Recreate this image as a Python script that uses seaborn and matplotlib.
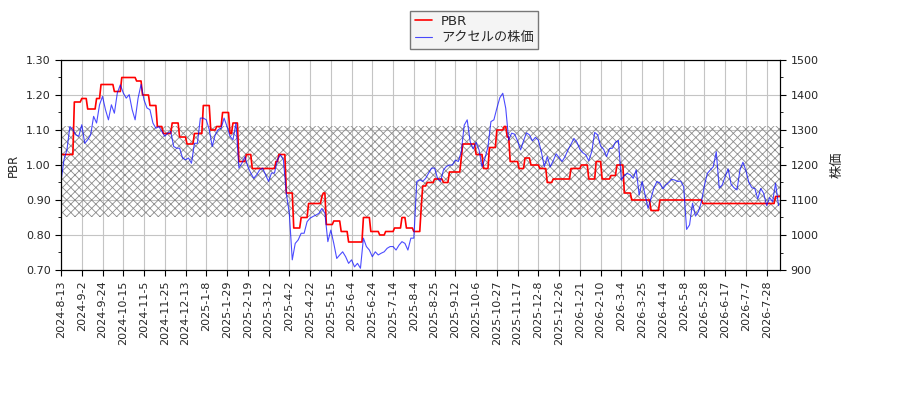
import numpy as np
import pandas as pd
import seaborn as sns
import matplotlib
matplotlib.use("Agg")
import matplotlib.pyplot as plt
from matplotlib.ticker import MultipleLocator, FormatStrFormatter

# --- data (x axis = trading-day index) ---
N_DAYS = 486
TICK_STEP = 14
tick_labels = [
    "2024-8-13", "2024-9-2", "2024-9-24", "2024-10-15", "2024-11-5", "2024-11-25",
    "2024-12-13", "2025-1-8", "2025-1-29", "2025-2-19", "2025-3-12", "2025-4-2",
    "2025-4-22", "2025-5-15", "2025-6-4", "2025-6-24", "2025-7-14", "2025-8-4",
    "2025-8-25", "2025-9-12", "2025-10-6", "2025-10-27", "2025-11-17", "2025-12-8",
    "2025-12-26", "2026-1-21", "2026-2-10", "2026-3-4", "2026-3-25", "2026-4-14",
    "2026-5-8", "2026-5-28", "2026-6-17", "2026-7-7", "2026-7-28",
]

# PBR is a step series: day where each level starts, and the level
pbr_start = [0, 9, 14, 18, 24, 27, 36, 41, 51, 55,
             60, 65, 69, 75, 80, 85, 90, 96, 101, 105,
             109, 114, 116, 120, 125, 129, 145, 147, 152, 157,
             162, 167, 176, 177, 179, 184, 189, 194, 204, 209,
             215, 219, 225, 230, 233, 238, 243, 244, 247, 252,
             258, 262, 270, 271, 280, 285, 289, 294, 299, 301,
             303, 309, 313, 317, 323, 328, 332, 344, 351, 356,
             361, 365, 371, 375, 380, 385, 398, 404, 433, 482]
pbr_value = [1.03, 1.18, 1.19, 1.16, 1.19, 1.23, 1.21, 1.25, 1.24, 1.20,
             1.17, 1.11, 1.09, 1.12, 1.08, 1.06, 1.09, 1.17, 1.10, 1.11,
             1.15, 1.09, 1.12, 1.01, 1.03, 0.99, 1.01, 1.03, 0.92, 0.82,
             0.85, 0.89, 0.91, 0.92, 0.83, 0.84, 0.81, 0.78, 0.85, 0.81,
             0.80, 0.81, 0.82, 0.85, 0.82, 0.81, 0.88, 0.94, 0.95, 0.96,
             0.95, 0.98, 1.02, 1.06, 1.03, 0.99, 1.05, 1.10, 1.11, 1.08,
             1.01, 0.99, 1.02, 1.00, 0.99, 0.95, 0.96, 0.99, 1.00, 0.96,
             1.01, 0.96, 0.97, 1.00, 0.92, 0.90, 0.87, 0.90, 0.89, 0.91]

# share price, read every second trading day
PRICE_STEP = 2
price_values = [
    1153, 1215, 1243, 1310, 1301, 1286, 1282, 1315, 1262, 1272,
    1286, 1339, 1320, 1372, 1396, 1358, 1329, 1372, 1348, 1406,
    1429, 1406, 1391, 1401, 1358, 1329, 1391, 1430, 1386, 1363,
    1358, 1320, 1305, 1310, 1296, 1282, 1291, 1296, 1253, 1248,
    1248, 1220, 1215, 1220, 1205, 1262, 1262, 1334, 1334, 1329,
    1301, 1253, 1286, 1301, 1305, 1334, 1310, 1282, 1272, 1320,
    1191, 1205, 1224, 1196, 1177, 1162, 1172, 1186, 1191, 1172,
    1153, 1177, 1177, 1215, 1229, 1215, 1119, 1062, 929, 976,
    986, 1005, 1005, 1038, 1048, 1053, 1057, 1062, 1076, 1062,
    981, 1014, 976, 933, 943, 952, 938, 919, 929, 909,
    919, 905, 991, 967, 957, 938, 952, 943, 948, 952,
    962, 967, 967, 957, 971, 981, 976, 957, 991, 991,
    1153, 1158, 1153, 1162, 1177, 1191, 1191, 1162, 1153, 1186,
    1196, 1200,
    1200, 1214, 1210, 1238, 1314, 1329, 1267, 1246, 1265, 1243,
    1195, 1219, 1252, 1324, 1329, 1362, 1392, 1405, 1362, 1271,
    1291, 1288, 1269, 1243, 1269, 1292, 1286, 1269, 1279, 1271,
    1238, 1195, 1224, 1195, 1212, 1232, 1221, 1210, 1224, 1243,
    1259, 1276, 1265, 1245, 1235, 1229, 1212, 1238, 1293,
    1286, 1254, 1245, 1224, 1247, 1248, 1265, 1270, 1157, 1170,
    1176, 1172, 1162, 1186, 1114, 1153, 1114, 1076, 1105, 1135,
    1153, 1148, 1132, 1143, 1150, 1159, 1157, 1153, 1154, 1138,
    1016, 1029, 1091, 1054, 1067, 1095, 1141, 1176, 1186, 1195,
    1238, 1134, 1143, 1167, 1189, 1145, 1135, 1129, 1186, 1208,
    1184, 1150, 1135, 1133, 1103, 1133, 1119, 1084, 1107, 1095,
    1148, 1084,
]

band_low, band_high = 0.85, 1.11

# --- frames ---
run_lengths = np.diff(pbr_start + [N_DAYS])
df_pbr = pd.DataFrame({"day": np.arange(N_DAYS),
                       "PBR": np.repeat(pbr_value, run_lengths)})
df_price = pd.DataFrame({"day": np.arange(len(price_values)) * PRICE_STEP,
                         "price": price_values})

sns.set_theme(style="ticks")
plt.rcParams["font.family"] = ["DejaVu Sans", "Noto Sans CJK JP"]
plt.rcParams["hatch.color"] = "#8c8c8c"
plt.rcParams["hatch.linewidth"] = 0.6

fig = plt.figure(figsize=(9, 4), dpi=100)
ax = fig.add_axes([61 / 900, 130 / 400, 719 / 900, 210 / 400])

ax.fill_between([0, N_DAYS - 1], band_low, band_high, facecolor="none",
                edgecolor="#8c8c8c", hatch="xxxx", linewidth=0)
sns.lineplot(data=df_pbr, x="day", y="PBR", ax=ax, color="red",
             linewidth=1.2, legend=False)

ax2 = ax.twinx()
sns.lineplot(data=df_price, x="day", y="price", ax=ax2, color="blue",
             alpha=0.7, linewidth=0.8, legend=False)

# --- axes formatting ---
ax.set_xlim(0, N_DAYS - 1)
ax.set_ylim(0.7, 1.3)
ax2.set_ylim(900, 1500)
ax.set_xticks(np.arange(len(tick_labels)) * TICK_STEP)
ax.set_xticklabels(tick_labels, rotation=90)
ax.yaxis.set_major_locator(MultipleLocator(0.1))
ax.yaxis.set_minor_locator(MultipleLocator(0.05))
ax.yaxis.set_major_formatter(FormatStrFormatter("%.2f"))
ax2.yaxis.set_major_locator(MultipleLocator(100))
ax2.yaxis.set_minor_locator(MultipleLocator(50))

for a in (ax, ax2):
    a.tick_params(which="major", length=4, width=0.8, labelsize=8, color="black")
    a.tick_params(which="minor", length=2, width=0.6, color="black")
    for s in a.spines.values():
        s.set_color("black")
        s.set_linewidth(0.8)

ax.grid(True, color="#c4c4c4", linewidth=0.8)
ax.set_xlabel("")
ax.set_ylabel("PBR", fontsize=8.5)
ax2.set_ylabel("株価", fontsize=9.5, labelpad=9)

h1 = ax.get_lines()[0]
h2 = ax2.get_lines()[0]
fig.legend([h1, h2], ["PBR", "アクセルの株価"], loc="upper left",
           bbox_to_anchor=(410 / 900, 1 - 10.5 / 400), borderaxespad=0,
           frameon=True, fancybox=False, edgecolor="#777777",
           facecolor="#f4f4f4", framealpha=1, fontsize=9.5,
           labelspacing=0.25, borderpad=0.35, handlelength=1.3,
           handletextpad=0.7)

fig.savefig("out.png", dpi=100)
